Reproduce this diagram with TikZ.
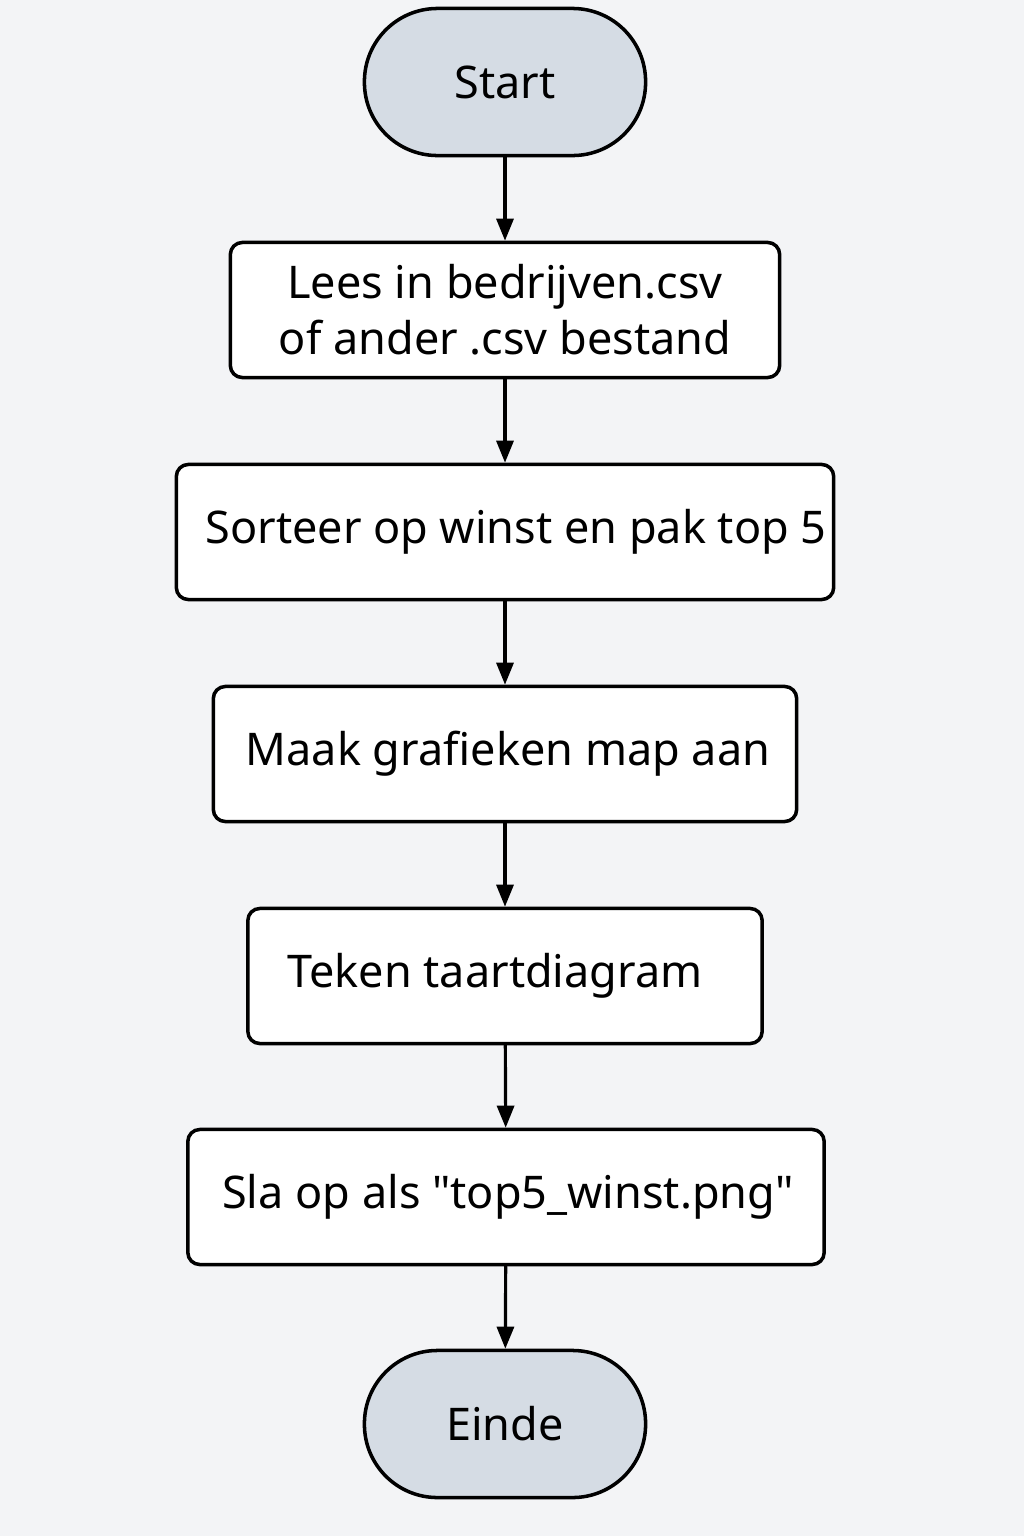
\documentclass[tikz,border=0pt]{standalone}
\usepackage{fontspec}
\setmainfont{Noto Sans}
\newfontfamily\plainquote{Noto Sans}
\usetikzlibrary{arrows.meta}
\definecolor{bgcol}{HTML}{F3F4F6}
\definecolor{termfill}{HTML}{D5DCE4}
\newcommand{\sq}{{\plainquote"}}
\begin{document}
\begin{tikzpicture}[x=0.01cm, y=-0.01cm,
  line cap=round, line join=round, >={Triangle[width=0.17cm,length=0.22cm]},
  every node/.style={font=\fontsize{12.8}{16}\selectfont, align=center, inner sep=0pt},
  terminal/.style={draw, line width=1pt, fill=termfill, rounded corners=0.73cm,
    minimum width=2.81cm, minimum height=1.47cm},
  stepbox/.style={draw, line width=1pt, fill=white, rounded corners=0.12cm,
    minimum height=1.35cm},
  flow/.style={->, line width=0.9pt}]
  % background and page size
  \fill[bgcol] (0,0) rectangle (1024,1536);
  % terminals and steps
  \node[terminal] (start) at (505,82) {Start};
  \node[stepbox, minimum width=5.49cm] (read) at (505,310)
    {Lees in bedrijven.csv\\of ander .csv bestand};
  \node[stepbox, minimum width=6.57cm] (sort) at (505,532) {};
  \node at (516,532) {Sorteer op winst en pak top 5};
  \node[stepbox, minimum width=5.83cm] (dir) at (505,754) {};
  \node at (508,754) {Maak grafieken map aan};
  \node[stepbox, minimum width=5.14cm] (pie) at (505,976) {};
  \node at (495,976) {Teken taartdiagram};
  \node[stepbox, minimum width=6.36cm] (save) at (506,1197) {};
  \node at (508,1197) {Sla op als \sq top5\_winst.png\sq};
  \node[terminal] (stop) at (505,1424) {Einde};
  % connectors
  \draw[flow] (start) -- (read);
  \draw[flow] (read) -- (sort);
  \draw[flow] (sort) -- (dir);
  \draw[flow] (dir) -- (pie);
  \draw[flow] (pie) -- (save);
  \draw[flow] (save) -- (stop);
\end{tikzpicture}
\end{document}
